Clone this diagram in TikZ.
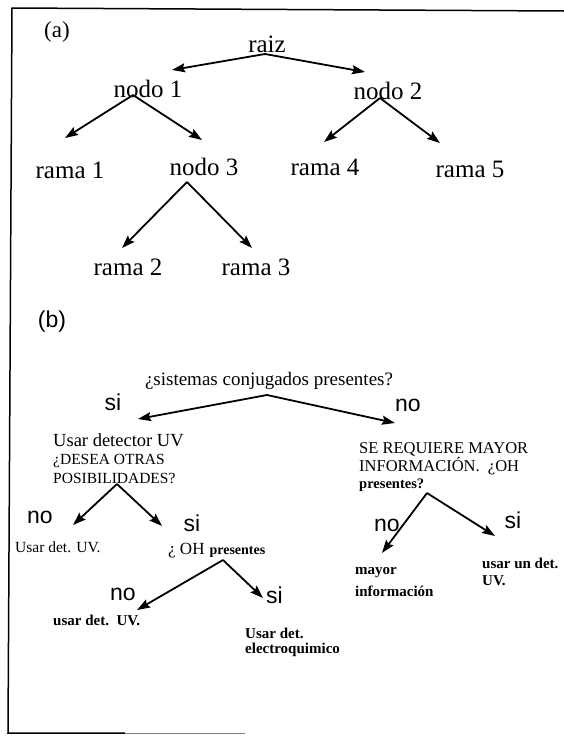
\documentclass[tikz,border=0pt]{standalone}
\usepackage{fontspec}
\setmainfont{Liberation Serif}
\newfontfamily\sansf{Liberation Sans}
\usetikzlibrary{arrows.meta}

\newcommand{\fsz}[1]{\fontsize{#1}{#1}\selectfont}

\begin{document}
\begin{tikzpicture}[x=1pt,y=-1pt,
  lbl/.style={inner sep=0pt, anchor=base},
  lblw/.style={inner sep=0pt, anchor=base west},
  tree/.style={font=\fsz{25}},
  yn/.style={font=\sansf\fsz{23}},
  small/.style={font=\bfseries\fsz{15}},
  arr/.style={line width=1.8pt, -{Stealth[length=13pt,width=9pt,inset=2pt]}},
  frame/.style={line width=1.5pt}]

\useasboundingbox (0,0) rectangle (564,737);

% outer frame (open on the right)
\draw[frame] (564,11) -- (12,8) -- (8,733) -- (125,733);
\draw[gray, line width=1pt] (125,733) -- (245,733);

% ---------- (a) generic tree ----------
\node[lbl,font=\fsz{23}] (a) at (57,37) {(a)};
\node[lbl,tree] (raiz) at (267,52) {raiz};
\node[lbl,tree] (n1) at (148,97) {nodo 1};
\node[lbl,tree] (n2) at (388,99) {nodo 2};
\node[lbl,tree] (r1) at (70,178) {rama 1};
\node[lbl,tree] (n3) at (204,175) {nodo 3};
\node[lbl,tree] (r4) at (325,175) {rama 4};
\node[lbl,tree] (r5) at (470,177) {rama 5};
\node[lbl,tree] (r2) at (128,275) {rama 2};
\node[lbl,tree] (r3) at (256,275) {rama 3};

\coordinate (raiz-o) at (265,54);
\coordinate (n1-in) at (172,70);
\coordinate (n2-in) at (365,72);
\coordinate (n1-o) at (133,95);
\coordinate (r1-in) at (65,138);
\coordinate (n3-in) at (202,140);
\coordinate (n2-o) at (380,98);
\coordinate (r4-in) at (324,142);
\coordinate (r5-in) at (440,143);
\coordinate (n3-o) at (187,182);
\coordinate (r2-in) at (122,248);
\coordinate (r3-in) at (252,248);

\draw[arr] (raiz-o) -- (n1-in);
\draw[arr] (raiz-o) -- (n2-in);
\draw[arr] (n1-o) -- (r1-in);
\draw[arr] (n1-o) -- (n3-in);
\draw[arr] (n2-o) -- (r4-in);
\draw[arr] (n2-o) -- (r5-in);
\draw[arr] (n3-o) -- (r2-in);
\draw[arr] (n3-o) -- (r3-in);

% ---------- (b) detector selection tree ----------
\node[lbl,yn] (b) at (52,327) {(b)};
\node[lbl,font=\fsz{19}] (q0) at (269,385) {¿sistemas conjugados presentes?};
\node[lbl,yn] (si0) at (113,410) {si};
\node[lbl,yn] (no0) at (408,411) {no};
\coordinate (q0-o) at (267,395);
\coordinate (q1-in) at (138,419);
\coordinate (q2-in) at (395,423);
\draw[arr] (q0-o) -- (q1-in);
\draw[arr] (q0-o) -- (q2-in);

% left branch
\node[lblw,font=\fsz{18.5}] (q1a) at (53,446) {Usar detector UV};
\node[lblw,font=\fsz{15.5}] (q1b) at (53,464) {¿DESEA OTRAS};
\node[lblw,font=\fsz{15.5}] (q1c) at (53,483) {POSIBILIDADES?};
\coordinate (q1-o) at (117,484);
\coordinate (l1-in) at (73,525);
\coordinate (q3-in) at (162,526);
\draw[arr] (q1-o) -- (l1-in);
\draw[arr] (q1-o) -- (q3-in);
\node[lbl,yn] (no1) at (40,523) {no};
\node[lbl,yn] (si1) at (192,531) {si};
\node[lblw,font=\fsz{15.5}] (l1) at (15,552) {Usar det. UV.};
\node[lblw] (q3) at (168,554) {{\fsz{17}¿ OH}\ \ {\bfseries\fsz{14}presentes}};

\coordinate (q3-o) at (223,560);
\coordinate (l2-in) at (137,610);
\coordinate (l3-in) at (263,598);
\draw[arr] (q3-o) -- (l2-in);
\draw[arr] (q3-o) -- (l3-in);
\node[lbl,yn] (no2) at (123,600) {no};
\node[lblw,yn] (si2) at (266,603) {si};
\node[lblw,small] (l2) at (53,625) {usar det.\ \ UV.};
\node[lblw,small] (l3a) at (245,638) {Usar det.};
\node[lblw,small] (l3b) at (245,653) {electroquimico};

% right branch
\node[lblw,font=\fsz{16.5}] (q2a) at (359,453) {SE REQUIERE MAYOR};
\node[lblw,font=\fsz{16.5}] (q2b) at (359,471) {INFORMACIÓN.\ \ ¿OH};
\node[lblw,font=\bfseries\fsz{14.5}] (q2c) at (359,488) {presentes?};
\coordinate (q2-o) at (427,493);
\coordinate (r6-in) at (382,553);
\coordinate (r7-in) at (495,536);
\draw[arr] (q2-o) -- (r6-in);
\draw[arr] (q2-o) -- (r7-in);
\node[lbl,yn] (no3) at (387,531) {no};
\node[lbl,yn] (si3) at (513,528) {si};
\node[lblw,small] (r6a) at (355,574) {mayor};
\node[lblw,small] (r6b) at (355,596) {información};
\node[lblw,small] (r7a) at (482,568) {usar un det.};
\node[lblw,small] (r7b) at (482,585) {UV.};
\end{tikzpicture}
\end{document}
